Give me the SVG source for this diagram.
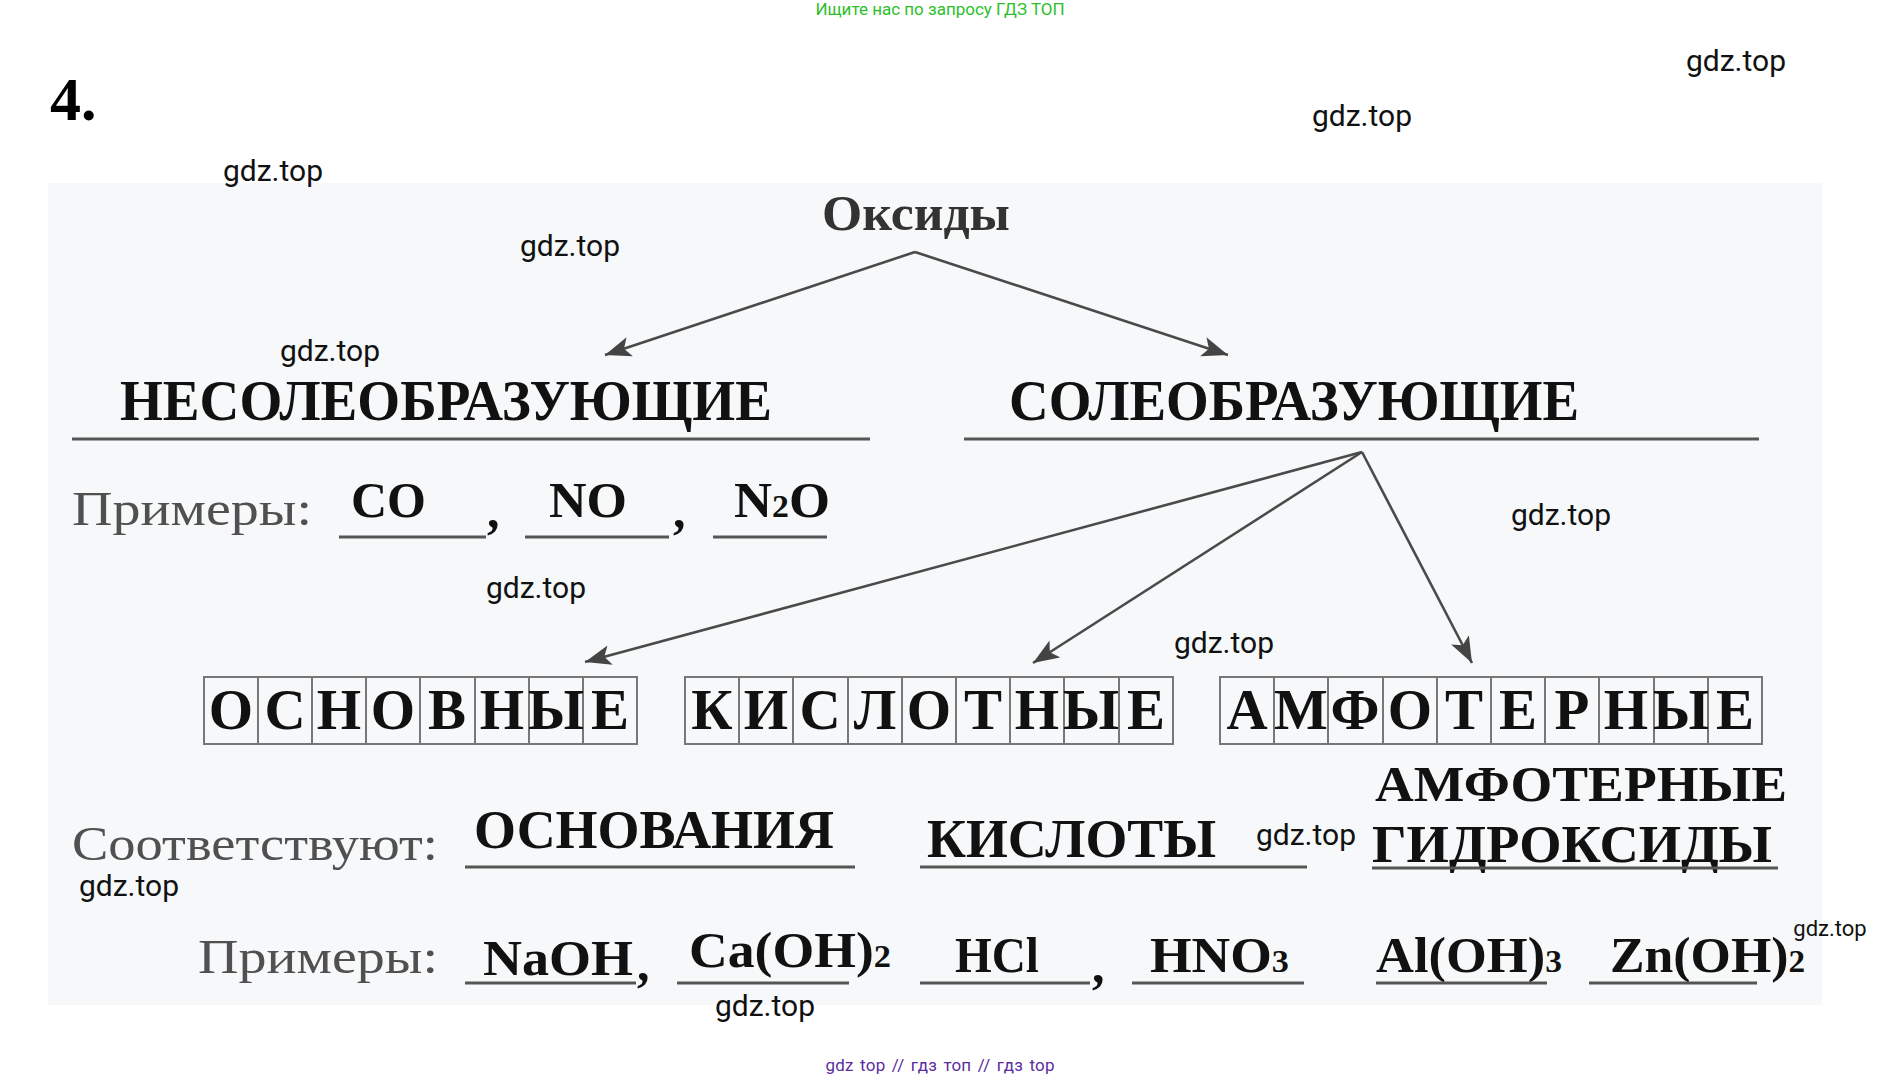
<svg xmlns="http://www.w3.org/2000/svg" width="1882" height="1081" viewBox="0 0 1882 1081">
<style>
.b{font-family:"Liberation Serif","Times New Roman",serif;font-weight:bold;fill:#111}
.r{font-family:"Liberation Serif","Times New Roman",serif;fill:#505050}
.wm{font-family:Roboto,"Liberation Sans",sans-serif;font-size:30px;fill:#111;text-anchor:middle}
.ul{stroke:#555;stroke-width:3;fill:none}
.cell{fill:none;stroke:#777;stroke-width:2}
.cl{font-family:"Liberation Serif","Times New Roman",serif;font-weight:bold;font-size:57px;fill:#111;text-anchor:middle}
.con{stroke:#4a4a4a;stroke-width:2.6;fill:none}
</style>
<defs>
<marker id="ah" markerUnits="userSpaceOnUse" markerWidth="28" markerHeight="22" viewBox="0 0 28 22" refX="26" refY="11" orient="auto">
<path d="M0,1 L26,11 L0,21 L6,11 z" fill="#444"/>
</marker>
</defs>
<rect width="1882" height="1081" fill="#fff"/>
<rect x="48" y="183" width="1774" height="822" fill="#f6f8f9"/>

<text x="940" y="15" text-anchor="middle" style="font-family:Roboto,'Liberation Sans',sans-serif;font-size:17px;fill:#2cbf2c">Ищите нас по запросу ГДЗ ТОП</text>
<text x="50" y="120" class="b" style="font-size:62px;fill:#000">4.</text>

<g id="connectors">
<line class="con" x1="915" y1="252" x2="605" y2="355" marker-end="url(#ah)"/>
<line class="con" x1="915" y1="252" x2="1228" y2="355" marker-end="url(#ah)"/>
<line class="con" x1="1362" y1="452" x2="585" y2="662" marker-end="url(#ah)"/>
<line class="con" x1="1362" y1="452" x2="1033" y2="663" marker-end="url(#ah)"/>
<line class="con" x1="1362" y1="452" x2="1472" y2="663" marker-end="url(#ah)"/>
</g>

<g id="oxides">
<text x="822" y="230" class="b" style="font-size:50px;fill:#333" textLength="188" lengthAdjust="spacingAndGlyphs">Оксиды</text>
</g>

<g id="non-salt">
<text x="120" y="420" class="b" style="font-size:57px" textLength="652" lengthAdjust="spacingAndGlyphs">НЕСОЛЕОБРАЗУЮЩИЕ</text>
<line class="ul" x1="72" y1="439" x2="870" y2="439"/>
</g>

<g id="salt">
<text x="1009" y="420" class="b" style="font-size:57px" textLength="570" lengthAdjust="spacingAndGlyphs">СОЛЕОБРАЗУЮЩИЕ</text>
<line class="ul" x1="964" y1="439" x2="1759" y2="439"/>
</g>

<g id="examples-nonsalt">
<text x="72" y="525" class="r" style="font-size:48px" textLength="240" lengthAdjust="spacingAndGlyphs">Примеры:</text>
<text x="351" y="517" class="b" style="font-size:50px" textLength="75" lengthAdjust="spacingAndGlyphs">CO</text>
<line class="ul" x1="339" y1="537" x2="486" y2="537"/>
<text x="487" y="527" class="b" style="font-size:50px">,</text>
<text x="549" y="517" class="b" style="font-size:50px" textLength="78" lengthAdjust="spacingAndGlyphs">NO</text>
<line class="ul" x1="525" y1="537" x2="669" y2="537"/>
<text x="673" y="527" class="b" style="font-size:50px">,</text>
<text x="734" y="517" class="b" style="font-size:50px" textLength="96" lengthAdjust="spacingAndGlyphs">N<tspan style="font-size:32px">2</tspan>O</text>
<line class="ul" x1="713" y1="537" x2="827" y2="537"/>
</g>

<g id="basic">
<rect class="cell" x="204" y="677" width="433" height="67"/>
<path class="cell" d="M258,677V744M312,677V744M366,677V744M420,677V744M475,677V744M529,677V744M583,677V744"/>
<text class="cl" y="729"><tspan x="231">О</tspan><tspan x="285">С</tspan><tspan x="339">Н</tspan><tspan x="393">О</tspan><tspan x="447">В</tspan><tspan x="502">Н</tspan><tspan x="556">Ы</tspan><tspan x="610">Е</tspan></text>
</g>

<g id="acidic">
<rect class="cell" x="685" y="677" width="488" height="67"/>
<path class="cell" d="M739,677V744M793,677V744M848,677V744M902,677V744M956,677V744M1010,677V744M1064,677V744M1119,677V744"/>
<text class="cl" y="729"><tspan x="712">К</tspan><tspan x="766">И</tspan><tspan x="820">С</tspan><tspan x="875">Л</tspan><tspan x="929">О</tspan><tspan x="983">Т</tspan><tspan x="1037">Н</tspan><tspan x="1091">Ы</tspan><tspan x="1146">Е</tspan></text>
</g>

<g id="amphoteric">
<rect class="cell" x="1220" y="677" width="542" height="67"/>
<path class="cell" d="M1274,677V744M1328,677V744M1383,677V744M1437,677V744M1491,677V744M1545,677V744M1599,677V744M1654,677V744M1708,677V744"/>
<text class="cl" y="729"><tspan x="1247">А</tspan><tspan x="1301">М</tspan><tspan x="1355">Ф</tspan><tspan x="1410">О</tspan><tspan x="1464">Т</tspan><tspan x="1518">Е</tspan><tspan x="1572">Р</tspan><tspan x="1626">Н</tspan><tspan x="1681">Ы</tspan><tspan x="1735">Е</tspan></text>
</g>

<g id="correspond">
<text x="72" y="860" class="r" style="font-size:48px" textLength="366" lengthAdjust="spacingAndGlyphs">Соответствуют:</text>
</g>

<g id="bases">
<text x="474" y="848" class="b" style="font-size:54px" textLength="360" lengthAdjust="spacingAndGlyphs">ОСНОВАНИЯ</text>
<line class="ul" x1="465" y1="867" x2="855" y2="867"/>
</g>

<g id="acids">
<text x="927" y="857" class="b" style="font-size:54px" textLength="289" lengthAdjust="spacingAndGlyphs">КИСЛОТЫ</text>
<line class="ul" x1="920" y1="867" x2="1307" y2="867"/>
</g>

<g id="amph-hydroxides">
<text x="1375" y="801" class="b" style="font-size:51px" textLength="412" lengthAdjust="spacingAndGlyphs">АМФОТЕРНЫЕ</text>
<text x="1372" y="862" class="b" style="font-size:53px" textLength="400" lengthAdjust="spacingAndGlyphs">ГИДРОКСИДЫ</text>
<line class="ul" x1="1372" y1="868" x2="1778" y2="868"/>
</g>

<g id="examples-bottom">
<text x="198" y="973" class="r" style="font-size:48px" textLength="240" lengthAdjust="spacingAndGlyphs">Примеры:</text>
<text x="483" y="975" class="b" style="font-size:50px" textLength="150" lengthAdjust="spacingAndGlyphs">NaOH</text>
<text x="637" y="980" class="b" style="font-size:50px">,</text>
<line class="ul" x1="465" y1="983" x2="636" y2="983"/>
<text x="689" y="967" class="b" style="font-size:50px" textLength="202" lengthAdjust="spacingAndGlyphs">Ca(OH)<tspan style="font-size:32px">2</tspan></text>
<line class="ul" x1="677" y1="983" x2="849" y2="983"/>
<text x="955" y="972" class="b" style="font-size:50px" textLength="84" lengthAdjust="spacingAndGlyphs">HCl</text>
<line class="ul" x1="920" y1="983" x2="1090" y2="983"/>
<text x="1092" y="982" class="b" style="font-size:50px">,</text>
<text x="1150" y="972" class="b" style="font-size:50px" textLength="139" lengthAdjust="spacingAndGlyphs">HNO<tspan style="font-size:32px">3</tspan></text>
<line class="ul" x1="1132" y1="983" x2="1304" y2="983"/>
<text x="1376" y="972" class="b" style="font-size:50px" textLength="186" lengthAdjust="spacingAndGlyphs">Al(OH)<tspan style="font-size:32px">3</tspan></text>
<line class="ul" x1="1376" y1="983" x2="1547" y2="983"/>
<text x="1610" y="972" class="b" style="font-size:50px" textLength="195" lengthAdjust="spacingAndGlyphs">Zn(OH)<tspan style="font-size:32px">2</tspan></text>
<line class="ul" x1="1589" y1="983" x2="1757" y2="983"/>
</g>

<g id="watermarks">
<text class="wm" x="1736" y="71">gdz.top</text>
<text class="wm" x="1362" y="126">gdz.top</text>
<text class="wm" x="273" y="181">gdz.top</text>
<text class="wm" x="570" y="256">gdz.top</text>
<text class="wm" x="330" y="361">gdz.top</text>
<text class="wm" x="1561" y="525">gdz.top</text>
<text class="wm" x="536" y="598">gdz.top</text>
<text class="wm" x="1224" y="653">gdz.top</text>
<text class="wm" x="1306" y="845">gdz.top</text>
<text class="wm" x="129" y="896">gdz.top</text>
<text class="wm" x="765" y="1016">gdz.top</text>
<text class="wm" x="1830" y="936" style="font-size:22px">gdz.top</text>
</g>

<text x="940" y="1071" text-anchor="middle" style="font-family:Roboto,'Liberation Sans',sans-serif;font-size:17px;fill:#5b2d9e;word-spacing:2px" textLength="229">gdz top // гдз топ // гдз top</text>
</svg>
